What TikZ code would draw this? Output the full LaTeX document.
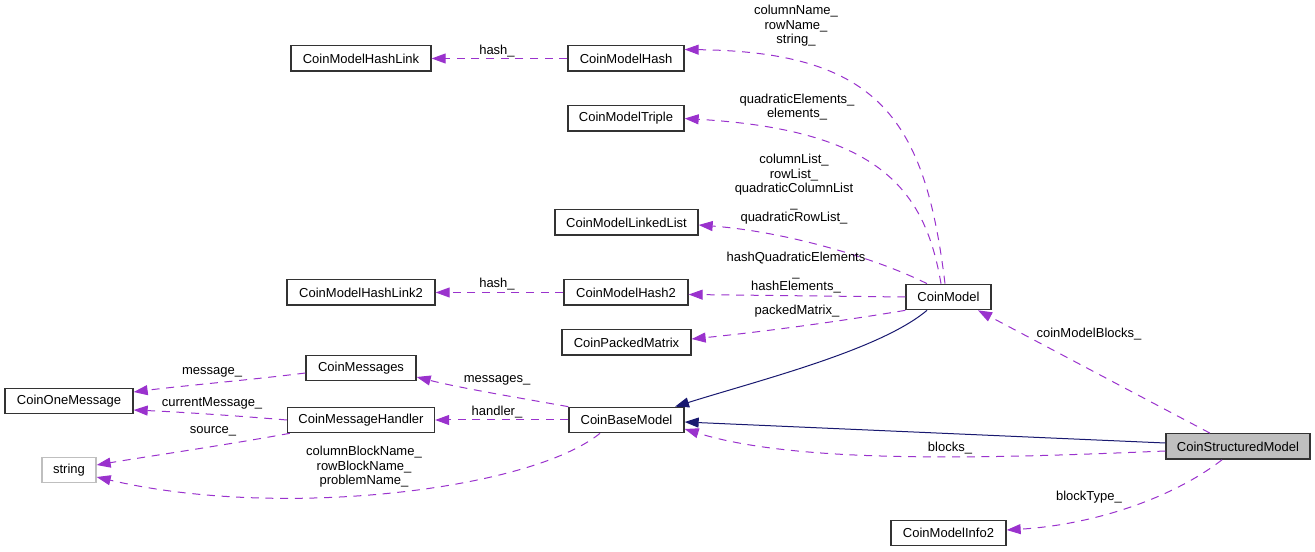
\documentclass[tikz,border=0pt]{standalone}
\usepackage{fontspec}
\setmainfont{Liberation Sans}
\usetikzlibrary{arrows.meta,calc}
\definecolor{assoc}{HTML}{9A32CD}
\definecolor{inherit}{HTML}{191970}
\definecolor{hilite}{HTML}{BFBFBF}
\definecolor{boxline}{HTML}{333333}
\tikzset{
  cls/.style={draw=boxline,line width=1pt,rectangle,minimum height=19pt,inner sep=0pt,font=\fontsize{9.75}{11}\selectfont},
  extcls/.style={cls,draw=hilite},
  curcls/.style={cls,fill=hilite},
  lbl/.style={inner sep=0pt,align=center,font=\fontsize{9.75}{10.9}\selectfont},
  uses/.style={draw=assoc,line width=0.75pt,dash pattern=on 6pt off 5pt,-{Triangle[length=10.5pt,width=7.5pt,fill=assoc]}},
  isa/.style={draw=inherit,line width=0.75pt,-{Triangle[length=10.5pt,width=7.5pt,fill=inherit]}}
}
\begin{document}
\begin{tikzpicture}[x=0.75pt,y=-0.75pt]
\useasboundingbox (0,0) rectangle (1315,552);
% classes
\node[cls,minimum width=105pt]   (hl)   at (361,58.5)  {CoinModelHashLink};
\node[cls,minimum width=87pt]    (h)    at (626,58.5)  {CoinModelHash};
\node[cls,minimum width=87pt]    (tr)   at (626,118.5) {CoinModelTriple};
\node[cls,minimum width=107.25pt](ll)   at (626.5,222.5) {CoinModelLinkedList};
\node[cls,minimum width=111pt]   (hl2)  at (361,292.5) {CoinModelHashLink2};
\node[cls,minimum width=93pt]    (h2)   at (626,292.5) {CoinModelHash2};
\node[cls,minimum width=96.75pt] (pm)   at (626.5,342.5) {CoinPackedMatrix};
\node[cls,minimum width=63.75pt] (cm)   at (948.5,297) {CoinModel};
\node[cls,minimum width=82.5pt]  (msgs) at (361,368)   {CoinMessages};
\node[cls,minimum width=96pt]    (om)   at (69,401)    {CoinOneMessage};
\node[cls,minimum width=110.25pt](mh)   at (361,420)   {CoinMessageHandler};
\node[cls,minimum width=86.25pt] (bm)   at (626.5,420) {CoinBaseModel};
\node[extcls,minimum width=40.5pt](str) at (69,470)    {string};
\node[curcls,minimum width=108pt](sm)   at (1238,446.5) {CoinStructuredModel};
\node[cls,minimum width=86.25pt] (mi)   at (948.5,533) {CoinModelInfo2};
% connectors
\draw[uses] (h.west) -- (hl.east);
\draw[uses] (h2.west) -- (hl2.east);
\draw[uses] ($(cm.north)+(-3.5,0)$) .. controls (925,120) and (880,52) .. ($(h.east)+(0,-9)$);
\draw[uses] ($(cm.north)+(-7.5,0)$) .. controls (925,190) and (880,130) .. (tr.east);
\draw[uses] ($(cm.north)+(-21.5,0)$) .. controls (880,260) and (790,232) .. ($(ll.east)+(0,2.5)$);
\draw[uses] (cm.west) -- ($(h2.east)+(0,2)$);
\draw[uses] (cm.south west) .. controls (860,318) and (780,330) .. ($(pm.east)+(0,-3.5)$);
\draw[isa] ($(cm.south)+(-21.5,0)$) .. controls (880,350) and (760,380) .. ($(bm.north)+(48.5,0)$);
\draw[isa] ($(sm.west)+(0,-3.5)$) -- ($(bm.east)+(0,2)$);
\draw[uses] ($(sm.west)+(0,4.5)$) .. controls (1000,458) and (800,465) .. ($(bm.east)+(0,9)$);
\draw[uses] ($(sm.north)+(-28,0)$) -- ($(cm.south)+(29.5,0)$);
\draw[uses] ($(sm.south)+(-16,0)$) .. controls (1170,500) and (1090,525) .. ($(mi.east)+(0,-3)$);
\draw[uses] (bm.north west) .. controls (520,398) and (460,388) .. ($(msgs.east)+(0,9)$);
\draw[uses] (bm.west) -- (mh.east);
\draw[uses] ($(msgs.west)+(0,5)$) .. controls (250,380) and (180,386) .. ($(om.east)+(0,-9)$);
\draw[uses] (mh.west) .. controls (240,416) and (180,412) .. ($(om.east)+(0,9)$);
\draw[uses] ($(mh.south west)+(3,0)$) .. controls (220,446) and (150,456) .. ($(str.east)+(0,-5)$);
\draw[uses] ($(bm.south)+(-26.5,0)$) .. controls (530,490) and (280,520) .. ($(str.east)+(0,7)$);
% labels
\node[lbl] (l1)  at (497,51)  {hash\_};
\node[lbl] (l2)  at (497,284) {hash\_};
\node[lbl] (l3)  at (796,26)  {columnName\_\\rowName\_\\string\_};
\node[lbl] (l4)  at (797,107) {quadraticElements\_\\elements\_};
\node[lbl] (l5)  at (794,189.5) {columnList\_\\rowList\_\\quadraticColumnList\\\_\\quadraticRowList\_};
\node[lbl] (l6)  at (796,273) {hashQuadraticElements\\\_\\hashElements\_};
\node[lbl] (l7)  at (797,311) {packedMatrix\_};
\node[lbl] (l8)  at (1089,334) {coinModelBlocks\_};
\node[lbl] (l9)  at (950,448) {blocks\_};
\node[lbl] (l10) at (1089,497) {blockType\_};
\node[lbl] (l11) at (497,380) {messages\_};
\node[lbl] (l12) at (497,412) {handler\_};
\node[lbl] (l13) at (212,372) {message\_};
\node[lbl] (l14) at (212,403) {currentMessage\_};
\node[lbl] (l15) at (213,431) {source\_};
\node[lbl] (l16) at (364,467) {columnBlockName\_\\rowBlockName\_\\problemName\_};
\end{tikzpicture}
\end{document}
